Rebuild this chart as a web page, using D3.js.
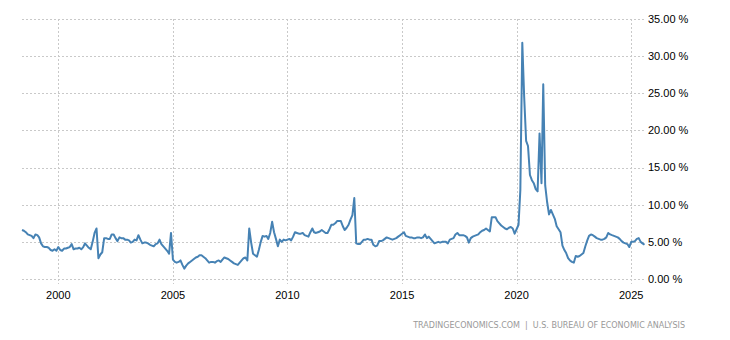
<!DOCTYPE html>
<html>
<head>
<meta charset="utf-8">
<script src="https://cdn.jsdelivr.net/npm/d3@7"></script>
<style>
  html, body { margin: 0; padding: 0; background: #fff; }
  svg { display: block; }
</style>
</head>
<body>
<svg id="chart" width="730" height="340"></svg>
<script>
// ---- DATA ----
const startMonth = "1998-06"; // first observation (monthly)
const rates = [
  /*1998 Jun-Dec*/ 6.6, 6.5, 6.3, 6.0, 5.9, 5.8, 5.5,
  /*1999*/ 6.0, 5.9, 5.6, 4.8, 4.4, 4.3, 4.3, 4.2, 3.9, 3.8, 4.0, 3.8,
  /*2000*/ 4.3, 3.9, 3.8, 4.1, 4.1, 4.2, 4.3, 4.7, 4.0, 4.1, 4.1, 4.2,
  /*2001*/ 4.0, 4.3, 4.8, 4.5, 4.2, 4.0, 5.0, 6.2, 6.8, 2.8, 3.3, 3.6,
  /*2002*/ 5.5, 5.5, 5.4, 5.4, 6.0, 6.0, 5.5, 5.1, 5.6, 5.5, 5.5, 5.3,
  /*2003*/ 5.3, 5.2, 4.9, 5.0, 5.3, 5.2, 5.9, 5.3, 4.8, 4.9, 4.9, 4.8,
  /*2004*/ 4.6, 4.5, 4.4, 4.7, 4.8, 5.3, 4.7, 4.4, 4.1, 3.8, 3.4, 6.2,
  /*2005*/ 2.6, 2.3, 2.2, 2.3, 2.5, 1.9, 1.4, 1.8, 2.1, 2.3, 2.5, 2.7,
  /*2006*/ 2.9, 3.0, 3.2, 3.2, 3.0, 2.8, 2.5, 2.2, 2.3, 2.3, 2.2, 2.4,
  /*2007*/ 2.5, 2.3, 2.6, 2.9, 2.8, 2.7, 2.5, 2.3, 2.1, 2.0, 1.9, 2.2,
  /*2008*/ 2.5, 2.8, 2.9, 2.5, 6.8, 4.9, 3.4, 3.2, 3.0, 3.9, 5.0, 5.8,
  /*2009*/ 5.7, 5.8, 5.4, 6.2, 7.7, 6.3, 5.4, 4.4, 5.3, 5.0, 5.3, 5.2,
  /*2010*/ 5.3, 5.4, 5.2, 5.7, 6.3, 6.2, 6.1, 6.1, 6.2, 5.9, 5.8, 5.7,
  /*2011*/ 6.3, 6.8, 6.3, 6.2, 6.3, 6.4, 6.6, 6.4, 6.2, 6.2, 6.7, 7.3,
  /*2012*/ 7.3, 7.5, 7.8, 7.8, 7.8, 7.1, 6.6, 6.9, 7.3, 8.0, 8.6, 10.9,
  /*2013*/ 4.8, 4.7, 4.7, 5.0, 5.3, 5.3, 5.4, 5.3, 5.3, 4.6, 4.4, 4.5,
  /*2014*/ 5.1, 5.1, 5.2, 5.4, 5.6, 5.5, 5.4, 5.3, 5.4, 5.5, 5.7, 5.9,
  /*2015*/ 6.1, 6.3, 5.8, 5.7, 5.6, 5.6, 5.5, 5.5, 5.6, 5.6, 5.5, 5.6,
  /*2016*/ 6.0, 5.5, 5.7, 5.4, 5.1, 4.8, 4.9, 5.0, 4.9, 5.0, 5.0, 5.0,
  /*2017*/ 4.8, 5.3, 5.4, 5.5, 6.0, 6.2, 5.9, 5.9, 5.9, 5.8, 5.6, 4.9,
  /*2018*/ 5.5, 5.7, 5.8, 5.9, 6.0, 6.3, 6.5, 6.6, 6.8, 6.6, 6.4, 8.3,
  /*2019*/ 8.3, 8.3, 7.8, 7.5, 7.2, 7.0, 6.8, 6.7, 6.9, 7.0, 6.8, 6.1,
  /*2020*/ 6.7, 7.3, 12.0, 31.8, 24.5, 18.6, 17.9, 14.0, 13.3, 12.9, 12.1, 11.8,
  /*2021*/ 19.6, 12.9, 26.2, 12.6, 10.4, 8.7, 9.3, 8.7, 8.1, 7.1, 6.7, 6.3,
  /*2022*/ 4.5, 3.9, 3.5, 2.8, 2.5, 2.3, 2.2, 3.1, 3.0, 3.1, 3.3, 3.5,
  /*2023*/ 4.4, 5.2, 5.8, 6.0, 5.9, 5.7, 5.5, 5.4, 5.3, 5.3, 5.4, 5.6,
  /*2024*/ 6.2, 6.0, 5.9, 5.8, 5.7, 5.6, 5.4, 5.1, 4.9, 4.8, 4.7, 4.3,
  /*2025 Jan-Aug*/ 5.0, 5.0, 5.1, 5.4, 5.5, 5.0, 4.8, 4.6
];
const yTicks = [0, 5, 10, 15, 20, 25, 30, 35];
const xTickYears = [2000, 2005, 2010, 2015, 2020, 2025];
const sourceText = "TRADINGECONOMICS.COM  |  U.S. BUREAU OF ECONOMIC ANALYSIS";

// ---- BUILD ----
const parse = d3.timeParse("%Y-%m");
const t0 = parse(startMonth);
const series = rates.map((v, i) => ({ date: d3.timeMonth.offset(t0, i), value: v }));

const svg = d3.select("#chart");
const plotLeft = 22, plotRight = 644.5, plotTop = 19, plotBottom = 279;

const x = d3.scaleTime()
  .domain([series[0].date, series[series.length - 1].date])
  .range([plotLeft, plotRight]);
const y = d3.scaleLinear().domain([0, 35]).range([plotBottom, plotTop]);

const gridColor = "#c9c9c9";

// horizontal grid
svg.append("g").selectAll("line").data(yTicks).join("line")
  .attr("x1", plotLeft).attr("x2", 645)
  .attr("y1", d => Math.round(y(d)) + 0.5).attr("y2", d => Math.round(y(d)) + 0.5)
  .attr("stroke", gridColor).attr("stroke-width", 1).attr("stroke-dasharray", "2,2");

// vertical grid
svg.append("g").selectAll("line").data(xTickYears).join("line")
  .attr("x1", d => Math.round(x(new Date(d, 0, 1))) + 0.5)
  .attr("x2", d => Math.round(x(new Date(d, 0, 1))) + 0.5)
  .attr("y1", plotTop).attr("y2", plotBottom + 5)
  .attr("stroke", gridColor).attr("stroke-width", 1).attr("stroke-dasharray", "2,2");

// y labels
svg.append("g").selectAll("text").data(yTicks).join("text")
  .attr("x", 648).attr("y", d => y(d) + 1)
  .attr("dominant-baseline", "middle")
  .attr("font-family", "'Liberation Sans', Arial, sans-serif")
  .attr("font-size", 11).attr("fill", "#000")
  .text(d => d3.format(".2f")(d) + " %");

// x labels
svg.append("g").selectAll("text").data(xTickYears).join("text")
  .attr("x", d => x(new Date(d, 0, 1)))
  .attr("y", 299)
  .attr("text-anchor", "middle")
  .attr("font-family", "'Liberation Sans', Arial, sans-serif")
  .attr("font-size", 11).attr("fill", "#000")
  .text(d => d);

// line
const line = d3.line().x(d => x(d.date)).y(d => y(d.value));
svg.append("path").datum(series)
  .attr("d", line)
  .attr("fill", "none")
  .attr("stroke", "#4682b4")
  .attr("stroke-width", 2)
  .attr("stroke-linejoin", "round");

// source
svg.append("text")
  .attr("x", 685).attr("y", 328)
  .attr("text-anchor", "end")
  .attr("font-family", "'DejaVu Sans', Verdana, sans-serif")
  .attr("font-size", 8)
  .attr("fill", "#999")
  .attr("xml:space", "preserve")
  .style("white-space", "pre")
  .text(sourceText);
</script>
</body>
</html>
